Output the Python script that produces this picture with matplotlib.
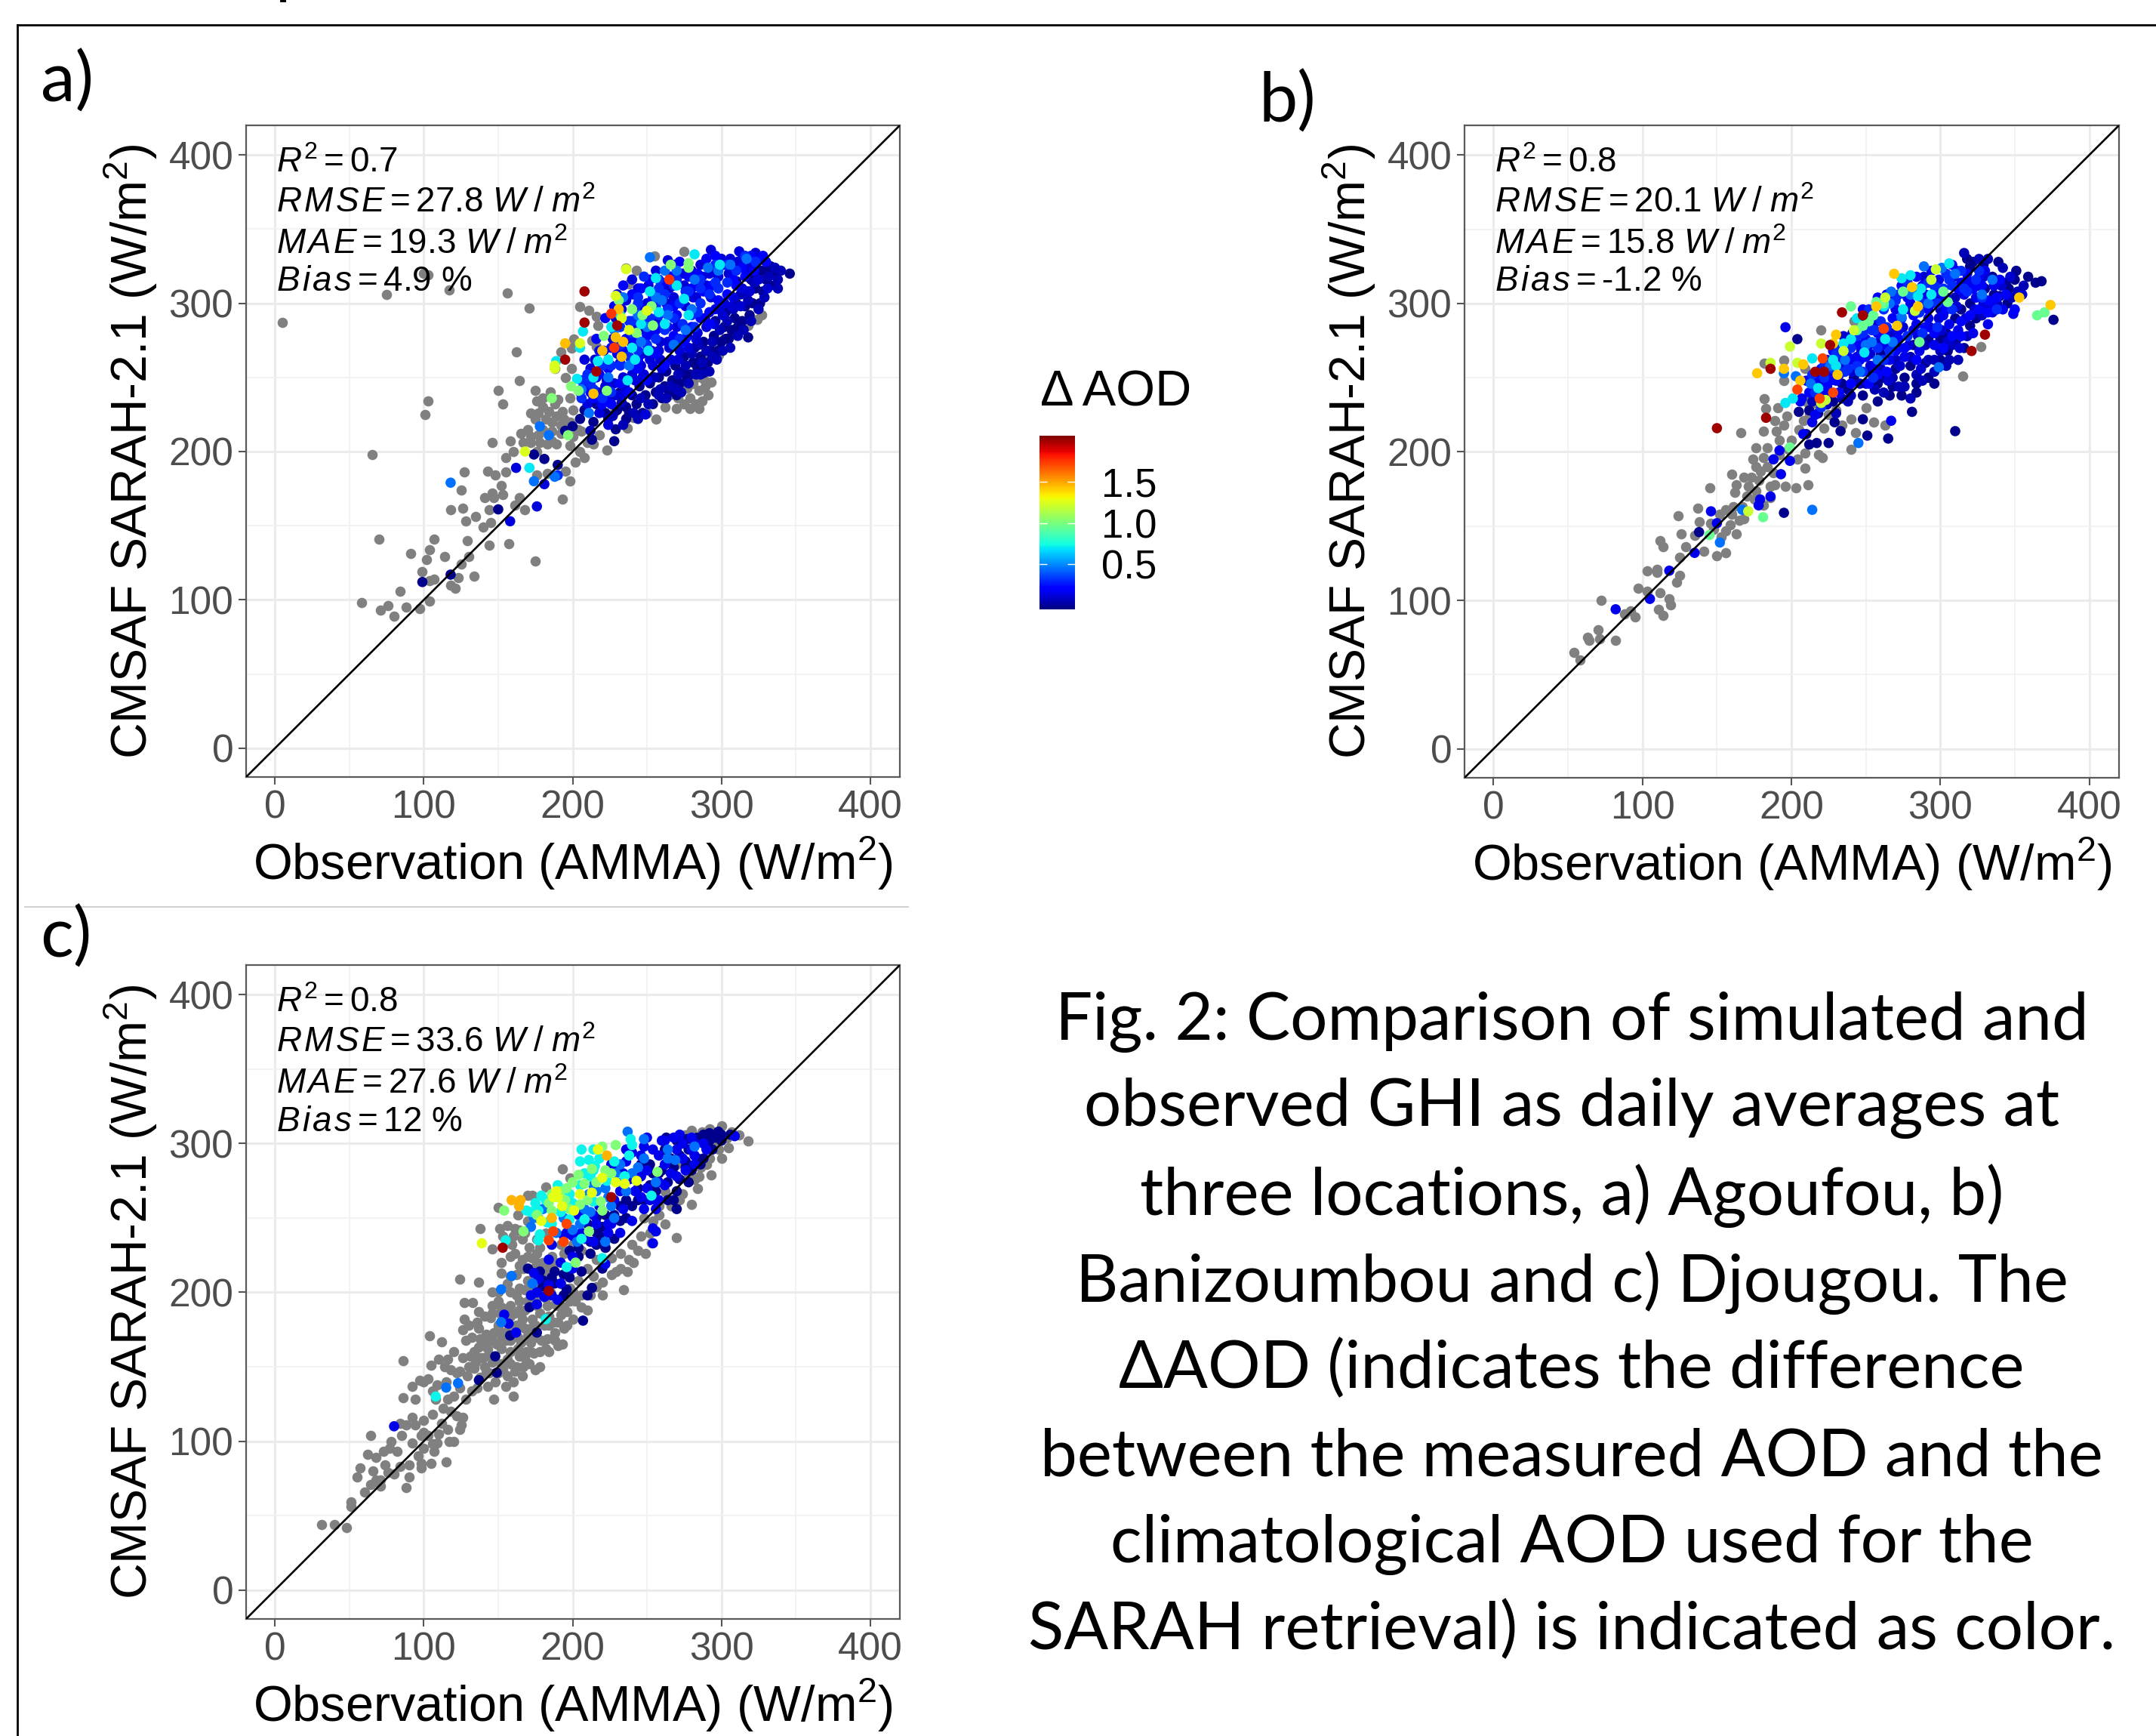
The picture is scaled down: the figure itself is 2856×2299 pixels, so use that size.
import numpy as np
import matplotlib
matplotlib.use('Agg')
import matplotlib.pyplot as plt
from matplotlib.lines import Line2D

plt.rcParams['font.family'] = ['Liberation Sans', 'DejaVu Sans']
plt.rcParams['mathtext.fontset'] = 'custom'
plt.rcParams['mathtext.rm'] = 'Liberation Sans'
plt.rcParams['mathtext.it'] = 'Liberation Sans:italic'
plt.rcParams['mathtext.bf'] = 'Liberation Sans:bold'

# values: (observation, CMSAF) in W/m2
# points with no AOD measurement are grey, the others are grouped by delta AOD

a_grey = [(5,287),(75,306),(100,320),(103,319),(117,309),(156,307),(171,297),(162,267),(164,248),(150,241),(153,232),
 (103,234),(101,225),(65,198),(70,141),(58,98),(71,93),(76,96),(80,89),(88,95),(97,94),(104,99),(84,106),(91,131),
 (102,127),(104,134),(107,141),(114,129),(99,119),(104,113),(107,114),(118,110),(121,108),(123,115),(134,116),(125,124),
 (130,129),(144,137),(157,138),(175,126),(129,140),(128,153),(135,156),(118,161),(126,162),(140,149),(145,152),(144,161),
 (147,169),(141,169),(146,172),(152,177),(153,171),(125,174),(143,187),(148,184),(127,186),(155,186),(164,169),(161,164),
 (168,161),(193,168),(198,180),(195,187),(183,185),(176,184),(155,196),(146,206),(158,207),(167,206),(172,210),(177,211),
 (183,205),(189,205),(198,204),(205,200),(208,196),(202,193),(214,205),(223,201),(175,241),(176,234),(180,236),(177,226),
 (184,227),(189,224),(193,227),(198,236),(195,250),(199,256),(201,276),(205,298),(211,295),(216,291),(217,285),(213,275),
 (216,271),(192,267),(199,270),(188,256),(172,206),(186,207),(176,200),(180,215),(186,214),(192,218),(200,210),(206,214),
 (212,207),(218,211),(237,216),(241,223),(270,229),(327,292),(324,289),(298,265),(307,280),(286,258),(290,262),(318,285),
 (275,232),(279,236),(283,232),(287,234),(291,238),(273,240),(277,243),(281,246),(285,241),(289,244),(293,247),(271,236),
 (275,248),(283,250),(279,229),(285,229),(288,249),(250,226),(262,230),(256,222),(265,238),(296,270),(302,276),(236,324),
 (243,322),(255,332),(275,335),(238,313),(228,227),(232,232),(170,215),(175,222),(180,230),(186,220),(192,212),(198,220),
 (204,215),(210,206),(185,240),(190,235),(178,206),(160,200),(165,212),(182,222),(188,232),(194,222),(200,228),(172,226)]

a_col = [
 (-0.02, [(99,112),(118,117),(150,161),(213,208),(228,207),(229,215),(195,214),(200,217),(236,222),(181,195),(174,198),(190,191),
  (346,320),(318,277),(311,284),(303,276),(288,253),(205,222),(208,228),(214,220),(216,232),(222,226),(225,235),(230,228),
  (232,240),(236,230),(238,226),(240,238),(243,232),(245,244),(247,226),(249,238),(252,246),(254,232),(256,240),(258,250),
  (260,236),(262,244),(263,254),(265,240),(267,248),(269,258),(270,238),(272,246),(274,254),(275,264),(277,250),(279,252),
  (281,260),(282,270),(284,256),(286,264),(288,274),(289,258),(291,260),(293,268),(295,278),(296,288),(298,268),(300,274),
  (302,284),(303,294),(305,276),(307,282),(309,290),(310,300),(312,284),(314,288),(316,298),(317,308),(319,292),(321,300),
  (323,310),(324,318),(326,300),(328,308),(330,316),(331,322),(333,312),(335,320),(333,325),(327,322),(310,315),(320,316)]),
 (0.05, [(212,214),(219,232),(227,224),(233,233),(241,226),(246,236),(251,232),(255,250),(259,242),(263,236),(266,244),(271,252),
  (273,240),(276,258),(278,246),(280,266),(283,252),(285,272),(287,260),(290,268),(292,254),(294,274),(297,262),(299,282),
  (301,268),(304,288),(306,270),(308,296),(311,278),(313,306),(315,282),(318,302),(320,288),(322,314),(325,296),(329,304),
  (332,318),(336,324),(338,316),(340,322),(338,310),(294,264),(286,252),(270,242),(258,238),(244,222),(234,218),(224,222)]),
 (0.1, [(217,240),(223,248),(229,238),(235,244),(241,258),(247,250),(253,268),(259,262),(265,270),(271,262),(277,278),(283,276),
  (289,290),(295,286),(301,292),(307,298),(313,298),(319,308),(325,316),(331,310),(215,262),(221,268),(227,276),(233,296),
  (239,274),(245,282),(251,312),(257,288),(263,300),(269,326),(275,312),(281,304),(287,318),(293,304),(299,296),(305,320),
  (311,328),(317,322),(323,334),(265,310),(253,280),(241,296),(229,290),(247,266),(259,274),(271,286),(283,312),(295,322)]),
 (0.12, [(158,153),(176,163),(181,178),(162,189),(249,225),(293,336),(264,329),(205,240),(210,232),(218,226),(224,218),(234,238),
  (242,248),(248,252),(254,258),(260,256),(266,262),(272,268),(278,270),(284,280),(290,284),(296,296),(302,300),(308,304),
  (314,310),(320,326),(325,330),(312,335),(314,330),(306,322),(298,318),(290,312),(283,304),(276,298),(270,284),(264,274),
  (258,268),(252,262),(246,258),(240,252),(234,250),(228,246),(222,244),(216,250),(212,256),(208,262),(230,306),(240,316),
  (236,302),(244,310),(250,300),(256,322),(262,312),(268,304),(274,320),(280,322),(286,326),(292,320),(300,330),(306,330)]),
 (0.2, [(214,236),(220,232),(226,232),(232,246),(238,240),(244,256),(250,248),(256,266),(262,258),(268,278),(274,274),(280,284),
  (286,290),(292,294),(298,302),(304,306),(310,312),(316,318),(322,322),(330,328),(218,268),(224,256),(230,266),(236,276),
  (242,286),(248,296),(254,304),(260,314),(266,318),(272,328),(278,318),(284,320),(290,330),(296,332),(302,326),(308,316),
  (314,324),(320,332),(328,332),(246,310),(252,316),(240,306),(234,312),(228,298),(222,290),(216,276),(264,284),(276,276),
  (288,308),(294,312),(270,292),(258,284),(250,278),(242,274),(234,268),(226,270),(218,252),(212,240),(208,244),(222,236),
  (232,260),(244,262),(256,282),(268,298),(280,310),(292,286)]),
 (0.3, [(190,184),(214,242),(220,236),(226,240),(232,258),(238,264),(244,268),(250,272),(256,276),(262,282),(268,290),(274,286),
  (280,292),(286,300),(292,306),(298,310),(304,314),(310,322),(316,332),(323,328),(270,316),(258,310),(248,318),(238,288),
  (232,272),(226,258),(220,258),(212,246),(206,236),(244,300),(252,290),(264,296),(276,308),(286,316),(296,326),(210,252),
  (206,248),(240,280),(258,292),(272,276),(282,284),(232,284),(244,304),(258,316),(268,312),(278,308),(286,310),(296,314),
  (304,326),(250,290),(262,306),(272,300),(240,288),(256,298),(284,294)]),
 (0.45, [(252,331),(118,179),(178,217),(184,211),(174,180),(188,183),(211,226),(244,292),(250,284),(262,322),(270,322),(282,316),
  (291,324),(306,326),(317,330),(256,304),(264,292),(276,282),(238,258),(224,250),(206,242),(228,282),(234,304),(298,322),
  (280,296),(268,272),(246,274),(260,302)]),
 (0.7, [(282,333),(207,281),(189,261),(171,189),(217,261),(205,270),(256,317),(278,292),(299,326),(237,248),(226,284),(240,270),
  (246,286),(232,292),(252,308),(258,294),(270,312),(214,250),(224,262),(262,286),(242,262),(251,268),(275,303),(203,249)]),
 (1.02, [(278,327),(266,326),(186,236),(223,241),(199,244),(197,211),(221,278),(254,285),(243,280),(231,302),(247,292),(278,324),
  (253,298),(240,296),(204,241)]),
 (1.25, [(236,323),(188,258),(205,273),(168,200),(250,295),(233,290),(229,305),(238,282),(188,256)]),
 (1.45, [(195,273),(220,268),(229,277),(231,296),(233,264),(214,239),(234,274)]),
 (1.75, [(265,316),(226,293),(228,270)]),
 (2.0, [(208,308),(208,287),(195,262),(216,254),(230,285)]),
]

b_grey = [(54,65),(58,60),(63,75),(64,73),(70,80),(71,74),(82,73),(72,100),(88,91),(92,93),(95,89),(97,108),(103,106),(112,105),
 (118,101),(119,97),(111,94),(114,90),(103,120),(110,121),(110,119),(125,117),(123,112),(125,129),(112,140),(114,136),(129,136),
 (126,145),(124,157),(137,162),(138,153),(146,152),(141,133),(150,130),(156,132),(135,144),(156,147),(159,151),(163,145),(152,158),
 (156,161),(161,163),(165,154),(168,155),(167,163),(145,176),(160,185),(163,178),(162,173),(168,183),(173,183),(171,177),(176,174),
 (186,177),(189,178),(196,177),(203,176),(211,178),(209,189),(186,169),(181,164),(179,187),(174,195),(181,196),(176,203),(184,203),
 (192,208),(192,198),(198,202),(209,199),(218,198),(221,196),(166,213),(181,214),(190,214),(195,218),(197,224),(189,221),(183,229),
 (182,236),(191,230),(208,221),(216,233),(234,218),(243,213),(240,202),(255,220),(263,218),(315,251),(327,271),(182,260),(195,262),
 (195,248),(209,256),(220,282),(242,288),(237,276),(210,234),(200,208),(205,215),(212,225),(225,225),(230,228),(204,195),(176,190),
 (170,170),(178,181),(184,190),(188,186),(175,168),(148,148),(153,143),(160,158),(222,216),(240,222),(250,230)]

b_col = [
 (-0.02, [(310,214),(265,209),(251,211),(248,222),(281,227),(258,234),(225,206),(217,206),(233,214),(229,220),(205,227),(204,276),
  (195,159),(138,146),(376,289),(368,315),(359,318),(364,314),(351,322),(339,328),(318,330),(329,326),(322,328),(320,325),(344,314),
  (335,318),(325,312),(340,305),(330,298),(345,300),(320,285),(311,276),(300,262),(292,250),(284,246),(276,250),(268,244),(258,246),
  (248,238),(238,242),(228,234),(218,226),(212,228),(266,238),(274,238),(284,240),(296,246),(270,256),(280,258),(290,260),(300,276),
  (310,290),(320,300),(330,310),(262,250),(252,254),(242,250),(234,246),(226,240),(260,266),(272,270),(282,272),(292,276),(304,280),
  (314,296),(324,290),(336,306),(346,310),(350,316),(316,270),(305,268),(212,205),(210,212)]),
 (0.05, [(262,240),(272,244),(280,236),(288,248),(296,254),(304,258),(312,262),(300,268),(292,262),(284,252),(276,244),(268,250),
  (256,242),(246,246),(238,234),(230,226),(224,232),(214,234),(308,272),(318,278),(328,292),(338,300),(348,304),(356,312),(342,324),
  (332,330),(326,330),(316,334),(352,308),(310,304),(300,296),(290,272),(280,264),(270,262),(260,256),(250,246),(240,238),(234,236),
  (306,262),(296,262)]),
 (0.1, [(219,246),(227,252),(233,258),(241,254),(247,268),(253,258),(259,274),(265,248),(273,258),(279,272),(285,278),(293,284),
  (299,290),(305,274),(311,298),(317,290),(323,296),(329,318),(335,294),(341,312),(347,318),(355,306),(287,256),(275,284),(267,280),
  (257,288),(249,286),(241,280),(235,278),(269,306),(279,296),(289,318),(299,302),(309,318),(319,312),(329,300),(263,262),(301,282),
  (313,270),(253,266)]),
 (0.15, [(196,284),(82,94),(105,101),(118,120),(135,132),(178,164),(179,168),(188,195),(192,201),(267,221),(349,293),(146,160),(150,152),
  (193,185),(199,194),(208,212),(214,220),(222,238),(232,252),(240,262),(250,264),(256,258),(266,262),(276,264),(286,268),(296,272),
  (306,286),(316,306),(326,318),(336,312),(342,296),(332,286),(322,280),(312,282),(302,292),(292,290),(282,282),(272,282),(262,272),
  (252,272),(244,264),(234,262),(224,252),(216,246),(224,262),(330,322),(335,300),(318,316),(311,322),(299,316),(290,306),(280,300),
  (270,296),(284,286),(294,300),(304,304),(314,314),(324,304),(216,225),(207,236),(186,170)]),
 (0.2, [(226,248),(232,240),(240,246),(246,262),(252,246),(258,252),(264,254),(270,268),(276,270),(284,262),(290,284),(296,280),(302,270),
  (308,278),(314,288),(320,292),(326,296),(332,302),(338,304),(344,306),(350,296),(340,316),(328,312),(318,320),(308,326),(298,308),
  (288,312),(278,304),(268,290),(258,280),(250,276),(242,272),(234,270),(228,268),(220,256),(212,240),(206,234),(254,290),(264,306),
  (274,312),(284,318),(294,322),(304,296),(314,278),(262,278),(272,276),(282,292),(292,296),(302,302),(312,310),(322,310),(332,294),
  (246,272),(238,264),(230,248),(224,244),(218,252),(210,248),(248,296),(258,304)]),
 (0.3, [(228,256),(238,256),(248,254),(258,270),(268,274),(278,278),(288,280),(298,284),(308,296),(318,308),(328,304),(338,296),(262,296),
  (272,306),(282,310),(292,314),(304,320),(314,322),(324,316),(248,280),(240,270),(232,268),(222,250),(254,282),(264,284),(274,290),
  (286,294),(298,300),(308,312),(216,240),(255,250),(262,262),(302,310),(220,230),(222,258),(236,254),(244,278),(252,296),(260,288),
  (270,302),(278,314),(288,300),(296,312),(306,316),(316,310),(326,322),(214,252),(230,266),(244,258),(256,282),(266,268)]),
 (0.45, [(289,325),(301,324),(214,161),(245,206),(167,161),(203,251),(299,257),(152,139),(195,253),(213,246),(236,262),(246,254),
  (254,274),(268,274),(274,291),(292,300),(310,320),(328,306),(335,316),(267,308),(266,300),(280,306),(250,272),(226,258),(258,262)]),
 (0.7, [(196,233),(201,236),(218,243),(235,273),(274,317),(280,319),(306,327),(287,310),(249,267),(263,276),(214,263),(285,305),(275,296),
  (262,298),(240,276),(228,262),(294,306),(244,290),(230,258)]),
 (0.95, [(145,144),(365,292),(370,294),(240,298),(248,285),(255,292),(257,301),(286,274),(275,308),(305,301),(302,308),(199,203),(252,288),
  (181,156),(262,300),(244,282)]),
 (1.2, [(199,271),(220,273),(186,260),(220,233),(223,235),(204,260),(171,160),(242,282),(235,268),(263,304),(294,316),(297,323),(283,295)]),
 (1.42, [(177,253),(353,304),(374,299),(228,273),(271,285),(281,311),(257,298),(230,279),(208,259),(195,256),(231,252),(269,320),(285,298),
  (206,248)]),
 (1.72, [(221,263),(204,242),(228,240),(219,236),(262,283)]),
 (2.0, [(150,216),(234,294),(248,292),(183,223),(186,256),(216,254),(226,272),(330,279),(321,268),(222,254)]),
]

c_grey = [(31,44),(40,44),(48,42),(51,59),(51,56),(55,76),(57,82),(64,71),(68,74),(71,74),(71,70),(62,91),(64,104),(68,89),(73,93),(77,95),
 (82,93),(84,83),(76,79),(90,76),(88,69),(98,82),(98,85),(105,85),(115,86),(107,93),(100,95),(92,99),(85,104),(88,111),(94,111),(100,114),
 (106,118),(103,104),(110,105),(116,108),(122,117),(125,111),(124,108),(113,122),(86,129),(94,128),(92,137),(97,141),(103,142),(109,138),
 (115,140),(105,151),(86,154),(110,155),(114,150),(116,155),(104,171),(112,167),(128,168),(124,147),(129,144),(134,149),(138,143),(143,137),
 (155,137),(147,128),(160,130),(128,128),(131,157),(135,153),(140,156),(146,153),(150,146),(156,144),(161,147),(167,150),(171,152),(174,159),
 (164,157),(158,160),(152,162),(143,162),(137,163),(138,169),(146,168),(152,171),(158,168),(165,166),(170,171),(147,173),(137,176),(126,175),
 (127,182),(127,193),(133,193),(137,187),(141,184),(146,191),(146,200),(150,194),(158,191),(164,194),(158,200),(164,203),(170,208),(158,211),
 (152,213),(124,209),(137,207),(138,243),(151,243),(156,245),(161,243),(164,242),(153,238),(146,229),(159,232),(161,226),(171,230),(173,223),
 (176,226),(150,257),(170,265),(173,265),(182,271),(193,283),(198,277),(190,191),(196,187),(196,178),(193,165),(188,173),(183,169),(179,168),
 (173,182),(176,191),(183,191),(202,194),(210,188),(220,198),(234,202),(220,207),(229,214),(237,214),(241,220),(249,226),(253,233),(262,246),
 (270,237),(280,259),(284,270),(293,279),(318,302),(305,297),(280,309),(287,308),(307,308),(214,211),(226,223),(150,176),(155,180),(162,178),
 (168,176),(175,178),(181,178),(187,180),(155,188),(161,186),(168,188),(172,196),(178,198),(185,200),(162,212),(167,216),(174,216),(180,212),
 (186,208),(192,206),(198,203),(204,208),(210,216),(216,222),(222,230),(232,226),(240,232),(246,238),(254,248),(166,222),(176,236),(182,240),
 (188,220),(194,226),(200,232),(206,228),(166,236),(170,248),(163,252),(177,250),(144,158),(140,166),(149,165),(156,155),(162,150),(169,160),
 (176,170),(184,178),(192,185),(198,194),(145,183),(151,186),(156,174),(163,170),(120,130),(117,100),(98,104),(109,99),(122,146),(141,150),
 (152,152),(166,144),(175,148),(270,286),(278,278),(286,284),(296,298),(300,290),(292,290),(262,268),(272,262),(285,278),(258,258),(248,250),
 (130,150),(134,160),(138,156),(142,146),(148,140),(153,148),(158,152),(163,162),(168,156),(172,166),(178,160),(184,160),(190,164),(142,172),
 (150,178),(155,168),(160,176),(166,182),(172,176),(178,186),(184,184),(190,180),(146,186),(152,190),(158,184),(164,188),(170,194),(176,202),
 (182,196),(188,192),(194,190),(200,200),(206,198),(212,198),(150,200),(156,206),(162,198),(168,202),(174,204),(180,220),(186,224),(192,232),
 (198,240),(204,236),(152,220),(158,224),(164,218),(170,224),(176,220),(160,238),(168,240),(178,230),(184,216),(120,160),(118,148),(126,156),
 (132,170),(136,180),(130,178),(124,136),(118,120),(112,112),(106,98),(96,90),(90,84),(80,78),(74,84),(66,80),(60,66),(78,100),(84,112),
 (92,116),(100,106),(108,128),(116,128),(100,140),(106,134),(120,100),(126,116),(132,134),(136,136),(144,146),(160,140),(172,160),(178,150),
 (182,162),(188,168),(194,176),(200,182),(206,190),(216,204),(226,212),(232,216),(238,222),(244,228),(252,240),(258,252),(266,258),(274,266),
 (282,276),(290,286),(298,296),(304,304),(312,306),(276,306),(292,310),(300,312)]

c_col = [
 (-0.02, [(137,141),(149,146),(148,157),(158,171),(176,173),(171,190),(207,181),(210,198),(213,203),(220,216),(270,256),(268,262),(292,307),
  (298,308),(263,304),(277,303),(180,204),(186,210),(194,212),(198,210),(212,226),(222,230),(228,236),(218,238),(210,246),(222,252),
  (232,248),(240,258),(248,262),(256,268),(264,274),(272,276),(280,282),(288,290),(294,296),(300,302),(296,304),(284,304),(270,302),
  (276,288),(266,290),(258,280),(252,286),(244,270),(236,262),(290,302),(278,296),(206,214),(216,232),(198,228),(188,214),(178,214),
  (198,216),(204,224),(212,234),(220,244),(228,252),(216,250),(236,250),(244,262),(252,272),(260,282),(268,284),(276,284),(284,290),
  (292,302),(300,306),(306,306),(288,306),(262,296),(254,280),(246,286),(264,262),(270,268),(278,274),(286,286),(272,292),(196,202),
  (188,206),(180,208),(170,216),(176,200),(194,198),(204,230),(216,240),(232,258)]),
 (0.15, [(80,110),(154,185),(162,173),(157,179),(176,192),(181,197),(190,195),(309,305),(254,233),(254,243),(256,241),(222,219),(174,213),(184,205),
  (177,209),(192,206),(200,238),(208,236),(216,246),(226,246),(234,256),(242,268),(250,270),(258,274),(266,280),(274,290),(282,292),(290,296),
  (258,292),(248,298),(240,294),(230,284),(238,276),(250,282),(262,286),(270,296),(282,300),(288,300),(272,306),(260,302),(250,304),(246,278),
  (228,262),(218,258),(208,248),(196,240),(186,232),(236,288),(256,262),(280,296),(200,224),(206,240),(214,234),(224,240),(232,240),(240,248),
  (248,256),(256,256),(262,272),(270,278),(276,282),(282,286),(246,292),(254,296),(262,302),(274,300),(280,304),(268,304),(242,276),(232,268),
  (224,246),(214,252),(204,252),(194,238),(184,222),(192,220),(200,216),(186,198),(176,200),(172,198),(236,296),(246,264),(258,262),(226,286),
  (234,280),(252,262)]),
 (0.45, [(237,308),(152,202),(159,211),(173,206),(152,180),(123,139),(115,136),(174,250),(189,240),(205,246),(222,234),(211,266),(222,270),(229,280),
  (248,303),(269,289),(282,298),(233,274),(244,284),(264,296),(226,258),(212,254),(200,242),(172,244),(180,256),(194,250),(203,234),(214,272),
  (224,264),(232,286),(240,280),(248,290),(256,274),(264,290),(236,268),(228,250),(216,268),(208,256)]),
 (0.72, [(155,235),(182,182),(108,130),(196,217),(220,223),(253,265),(238,292),(240,299),(239,303),(205,288),(211,289),(215,285),(223,275),(198,249),
  (208,249),(214,261),(172,254),(179,265),(177,255),(169,255),(178,239),(177,235),(214,282),(206,236),(190,264),(235,278),(183,247),(175,260),
  (182,262),(190,272),(198,266),(205,272),(212,278),(218,290),(228,288),(208,280),(200,260),(186,246),(192,254),(206,296),(214,296)]),
 (1.02, [(154,255),(167,241),(229,299),(220,298),(196,270),(204,279),(205,259),(186,255),(219,261),(257,281),(226,280),(202,220),(211,241),(220,255),
  (208,273),(195,262),(213,283),(176,252),(184,260),(192,268),(200,274),(186,266),(198,256),(210,262),(216,274),(222,282)]),
 (1.27, [(139,233),(235,273),(217,296),(189,268),(187,264),(190,264),(213,267),(179,248),(201,255),(220,277),(229,274),(243,275),(193,258),(205,266)]),
 (1.47, [(159,262),(223,292),(186,250),(164,258),(165,262)]),
 (1.72, [(194,234),(196,246),(187,241),(184,235)]),
 (2.0, [(153,230),(226,264),(184,201)]),
]

x_ticks = [0, 100, 200, 300, 400]
minor_ticks = [50, 150, 250, 350]
aod_ticks = [0.5, 1.0, 1.5]

gap = r'\hspace{0.09}'
rmse = gap.join('RMSE')
mae = gap.join('MAE')
bias = gap.join('Bias')
unit = r'\ W\;/\;m^2'
a_stats = ['$R^2=0.7$', rf'${rmse}=27.8{unit}$', rf'${mae}=19.3{unit}$', rf'${bias}=4.9\ \%$']
b_stats = ['$R^2=0.8$', rf'${rmse}=20.1{unit}$', rf'${mae}=15.8{unit}$', rf'${bias}=\text{{-1.2}}\ \%$']
c_stats = ['$R^2=0.8$', rf'${rmse}=33.6{unit}$', rf'${mae}=27.6{unit}$', rf'${bias}=12\ \%$']
stat_y = [388.5, 361.5, 333.5, 308.5]

caption = ['Fig. 2: Comparison of simulated and', 'observed GHI as daily averages at',
           'three locations, a) Agoufou, b)', 'Banizoumbou and c) Djougou. The',
           '\u0394AOD (indicates the difference', 'between the measured AOD and the',
           'climatological AOD used for the', 'SARAH retrieval) is indicated as color.']
caption_y = [1353, 1467, 1584, 1699, 1813, 1930, 2045, 2159]

W, H = 2856, 2299
fig = plt.figure(figsize=(W / 100, H / 100), dpi=100)


def box(left, top, right, bottom):
    return [left / W, 1 - bottom / H, (right - left) / W, (bottom - top) / H]


def panel(pos, grey, col, stats):
    ax = fig.add_axes(box(*pos))
    gx, gy = zip(*grey)
    ax.scatter(gx, gy, s=96, color='#808080', linewidths=0, zorder=2)
    xs, ys, cs = [], [], []
    for aod, pts in col:
        for p in pts:
            xs.append(p[0])
            ys.append(p[1])
            cs.append(aod)
    sc = ax.scatter(xs, ys, s=96, c=cs, cmap='jet', vmin=-0.05, vmax=2.06, linewidths=0, zorder=3)
    ax.axline((0, 0), slope=1, color='black', lw=1.9, zorder=4)
    ax.set_xlim(-19.5, 420)
    ax.set_ylim(-19.5, 420)
    ax.set_xticks(x_ticks)
    ax.set_yticks(x_ticks)
    ax.set_xticks(minor_ticks, minor=True)
    ax.set_yticks(minor_ticks, minor=True)
    ax.grid(which='major', color='#EBEBEB', lw=2.2)
    ax.grid(which='minor', color='#F1F1F1', lw=1.2)
    ax.set_axisbelow(True)
    ax.tick_params(which='major', length=7, width=1.5, color='#555555', labelcolor='#4D4D4D', labelsize=37, pad=5)
    ax.tick_params(which='minor', length=0)
    for s in ax.spines.values():
        s.set_color('#5A5A5A')
        s.set_linewidth(1.6)
    ax.set_xlabel('Observation (AMMA) (W/m$^2$)', fontsize=48, labelpad=8)
    ax.set_ylabel('CMSAF SARAH-2.1 (W/m$^2$)', fontsize=47.5, labelpad=9)
    for t, y in zip(stats, stat_y):
        ax.text(1, y, t, fontsize=33, va='baseline', ha='left', zorder=5)
    return sc


sc = panel((326, 166, 1192, 1029), a_grey, a_col, a_stats)
panel((1940, 166, 2807, 1030), b_grey, b_col, b_stats)
panel((326, 1278, 1192, 2144), c_grey, c_col, c_stats)

# colour bar
cax = fig.add_axes(box(1377, 577, 1424, 807))
cb = fig.colorbar(sc, cax=cax, ticks=aod_ticks)
cb.outline.set_visible(False)
cb.ax.tick_params(direction='in', left=True, right=True, color='white', length=7, width=1, labelsize=38, pad=25)
cb.ax.set_yticklabels(['0.5', '1.0', '1.5'])
fig.text(1378 / W, 1 - 537 / H, '\u0394 AOD', fontsize=48, va='baseline', ha='left')

# panel letters and caption were typed in a different font
for lab, x, y in [('a)', 54, 135), ('b)', 1668, 162), ('c)', 53, 1268)]:
    fig.text(x / W, 1 - y / H, lab, family='Lato', fontsize=66, va='baseline', ha='left')
for line, y in zip(caption, caption_y):
    fig.text(2082 / W, 1 - y / H, line, family='Lato', fontsize=62.7, va='center', ha='center')
fig.text(365 / W, 1 + 12 / H, 'p', family='Lato', fontsize=63, va='baseline', ha='left')

# frame of the pasted slide
fig.add_artist(Line2D([23 / W, 23 / W], [0, 1 - 33 / H], color='black', lw=2))
fig.add_artist(Line2D([23 / W, 1], [1 - 33 / H, 1 - 33 / H], color='black', lw=2))
fig.add_artist(Line2D([33 / W, 1203 / W], [1 - 1201 / H, 1 - 1201 / H], color='#C8C8C8', lw=1.2))

fig.savefig('out.png', dpi=100, facecolor='white')
